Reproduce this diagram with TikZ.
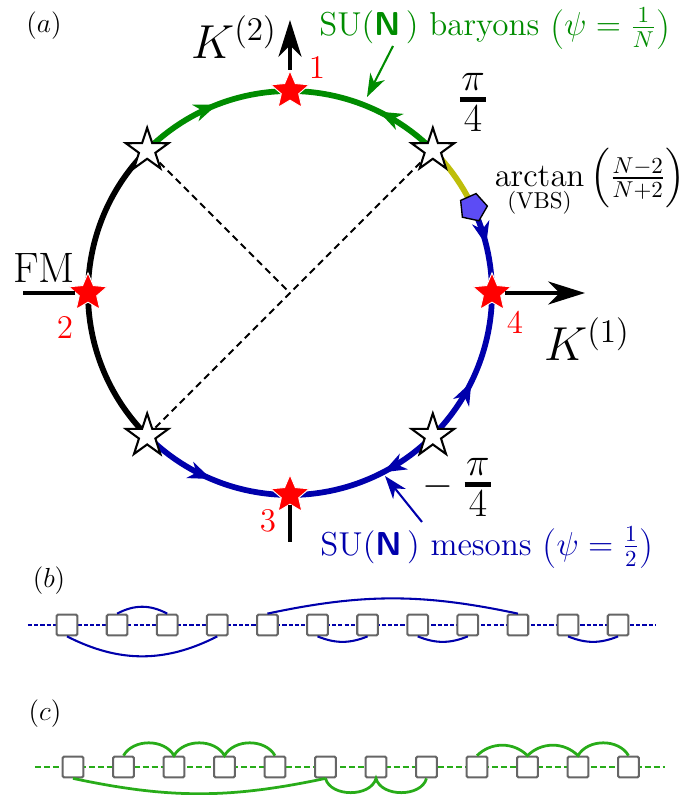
\documentclass[tikz,border=0pt]{standalone}
\usepackage{amsmath}
\usetikzlibrary{arrows.meta,decorations.markings,shapes.geometric,backgrounds}
\definecolor{baryongreen}{RGB}{0,140,0}
\definecolor{mesonblue}{RGB}{0,0,172}
\definecolor{vbsolive}{RGB}{190,190,10}
\definecolor{vbsfill}{RGB}{92,76,245}
\definecolor{chaingreen}{RGB}{40,172,25}
\tikzset{every picture/.style={line width=0.75pt}}
% fraction with a heavy bar, as at the pi/4 points
\newcommand{\thickfrac}[2]{\vcenter{\hbox{\shortstack{$#1$\\\rule{11.5pt}{2.2pt}\\[-1.5pt]$#2$}}}}
% larger round brackets round the psi value
\newcommand{\psipar}[1]{\raisebox{-1.4pt}{\LARGE(}#1\raisebox{-1.4pt}{\LARGE)}}

\begin{document}
\begin{tikzpicture}[x=0.435pt,y=0.435pt,
    arcline/.style={line width=2.5pt},
    flow/.style={postaction={decorate},decoration={markings,
        mark=at position #1 with {\arrow{Stealth[length=10pt,width=7.5pt,inset=3pt]}}}},
    redstar/.style={star,star points=5,star point ratio=2.2,minimum size=17.5pt,
        inner sep=0pt,fill=red,draw=white,line width=0.4pt},
    whitestar/.style={star,star points=5,star point ratio=2.6,minimum size=19.5pt,
        inner sep=0pt,fill=white,draw=black,line width=0.9pt},
    vbsdot/.style={regular polygon,regular polygon sides=5,minimum size=12.5pt,
        inner sep=0pt,fill=vbsfill,draw=black,line width=0.6pt,rotate=-12},
    axis/.style={line width=1.8pt,-{Stealth[length=16pt,width=10pt,inset=5pt]}},
    pointer/.style={line width=0.9pt,-{Stealth[length=10pt,width=7pt,inset=3pt]}},
    site/.style={draw=black!60,fill=white,line width=0.9pt,minimum size=9pt,
        inner sep=0pt,rounded corners=0.6pt},
    mesonchain/.style={mesonblue,line width=0.9pt,dash pattern=on 1.8pt off 0.9pt},
    baryonchain/.style={chaingreen,line width=0.9pt,dash pattern=on 2.6pt off 1.3pt},
    mesonbond/.style={mesonblue,line width=0.9pt},
    baryonbond/.style={chaingreen,line width=1.2pt}]
    \useasboundingbox (-290,-502) rectangle (397,293);

    % (a) phase circle
    \node[font=\large] (tagA) at (-246,267) {$(a)$};
    \coordinate (o) at (0,0);
    \node[redstar] (s1) at (90:202) {};
    \node[redstar] (s2) at (180:202) {};
    \node[redstar] (s3) at (270:202) {};
    \node[redstar] (s4) at (0:202) {};
    \node[whitestar] (w1) at (45:202) {};
    \node[whitestar] (w2) at (135:202) {};
    \node[whitestar] (w3) at (225:202) {};
    \node[whitestar] (w4) at (315:202) {};
    \node[vbsdot] (vbs) at (25:202) {};

    \begin{scope}[on background layer]
        % baryon arc
        \draw[arcline,baryongreen,flow=0.53] (135:202) arc[start angle=135,end angle=90,radius=202];
        \draw[arcline,baryongreen,flow=0.42] (45:202) arc[start angle=45,end angle=90,radius=202];
        % VBS piece
        \draw[arcline,vbsolive] (45:202) arc[start angle=45,end angle=25,radius=202];
        % meson arc
        \draw[arcline,mesonblue,flow=0.45] (25:202) arc[start angle=25,end angle=0,radius=202];
        \draw[arcline,mesonblue,flow=0.42] (-45:202) arc[start angle=-45,end angle=0,radius=202];
        \draw[arcline,mesonblue,flow=0.39] (-45:202) arc[start angle=-45,end angle=-90,radius=202];
        \draw[arcline,mesonblue,flow=0.49] (-135:202) arc[start angle=-135,end angle=-90,radius=202];
        % FM arc
        \draw[arcline,black] (135:202) arc[start angle=135,end angle=225,radius=202];
        % diagonals
        \draw[dashed,line width=0.9pt,dash pattern=on 3pt off 2pt] (w2) -- (o);
        \draw[dashed,line width=0.9pt,dash pattern=on 3pt off 2pt] (w1) -- (w3);
    \end{scope}

    % axes
    \coordinate (k2) at (0,273);
    \coordinate (k1) at (295,0);
    \coordinate (fm) at (-267,0);
    \coordinate (down) at (0,-249);
    \draw[axis] (s1) -- (k2);
    \draw[axis] (s4) -- (k1);
    \draw[line width=1.8pt] (s2) -- (fm);
    \draw[line width=1.8pt] (s3) -- (down);

    \node[font=\huge] (lblK2) at (-56,256) {$K^{(2)}$};
    \node[font=\huge] (lblK1) at (297,-46) {$K^{(1)}$};
    \node[font=\fontsize{18.5}{20}\selectfont] (lblFM) at (-246,25) {FM};
    \node[font=\Large,text=red] (n1) at (27,226) {1};
    \node[font=\Large,text=red] (n2) at (-225,-34) {2};
    \node[font=\Large,text=red] (n3) at (-22,-228) {3};
    \node[font=\Large,text=red] (n4) at (225,-29) {4};
    \node[font=\LARGE] (lblPi) at (183,191) {$\thickfrac{\pi}{4}$};
    \node[font=\LARGE] (lblMpi) at (167,-194) {$-\;\thickfrac{\pi}{4}$};
    \node[font=\Large,anchor=west] (lblVbs) at (196,110)
        {$\underset{\text{(VBS)}}{\arctan}\,\Bigl(\frac{N-2}{N+2}\Bigr)$};

    % labels of the two arcs
    \node[font=\Large,text=baryongreen,anchor=base,inner sep=1pt] (lblBar) at (205,257)
        {SU(\textsf{\bfseries N}\,) baryons \psipar{$\psi=\frac{1}{N}$}};
    \coordinate (barTail) at (103,247);
    \coordinate (barHead) at (77,196);
    \draw[pointer,baryongreen] (barTail) -- (barHead);
    \node[font=\Large,text=mesonblue,anchor=base] (lblMes) at (197,-262)
        {SU(\textsf{\bfseries N}\,) mesons \psipar{$\psi=\frac{1}{2}$}};
    \coordinate (mesTail) at (132,-229);
    \coordinate (mesHead) at (95,-183);
    \draw[pointer,mesonblue] (mesTail) -- (mesHead);

    % (b) meson chain
    \node[font=\large] (tagB) at (-241,-288) {$(b)$};
    \coordinate (bL) at (-262,-332);
    \coordinate (bR) at (365,-332);
    \draw[mesonchain] (bL) -- (bR);
    \foreach \i in {1,...,12}
        \node[site] (b\i) at ({-223+50.1*(\i-1)},-332) {};
    \draw[mesonbond] (b2.north) to[bend left=28] (b3.north);
    \draw[mesonbond] (b1.south) to[bend right=27] (b4.south);
    \draw[mesonbond] (b5.north) to[bend left=12] (b10.north);
    \draw[mesonbond] (b6.south) to[bend right=22] (b7.south);
    \draw[mesonbond] (b8.south) to[bend right=22] (b9.south);
    \draw[mesonbond] (b11.south) to[bend right=22] (b12.south);

    % (c) baryon chain
    \node[font=\large] (tagC) at (-245,-421) {$(c)$};
    \coordinate (cL) at (-255,-474);
    \coordinate (cR) at (375,-474);
    \draw[baryonchain] (cL) -- (cR);
    \foreach \i in {1,...,12}
        \node[site] (c\i) at ({-217+50.5*(\i-1)},-474) {};
    \draw[baryonbond] (c2.north) to[out=60,in=120] (c3.north)
        to[out=60,in=120] (c4.north) to[out=60,in=120] (c5.north);
    \draw[baryonbond] (c1.south) to[bend right=12] (c6.south);
    \draw[baryonbond] (c6.south) to[out=-75,in=-105] (c7.south)
        to[out=-75,in=-105] (c8.south);
    \draw[baryonbond] (c9.north) to[out=45,in=135] (c10.north)
        to[out=45,in=135] (c11.north) to[out=60,in=120] (c12.north);
\end{tikzpicture}
\end{document}
